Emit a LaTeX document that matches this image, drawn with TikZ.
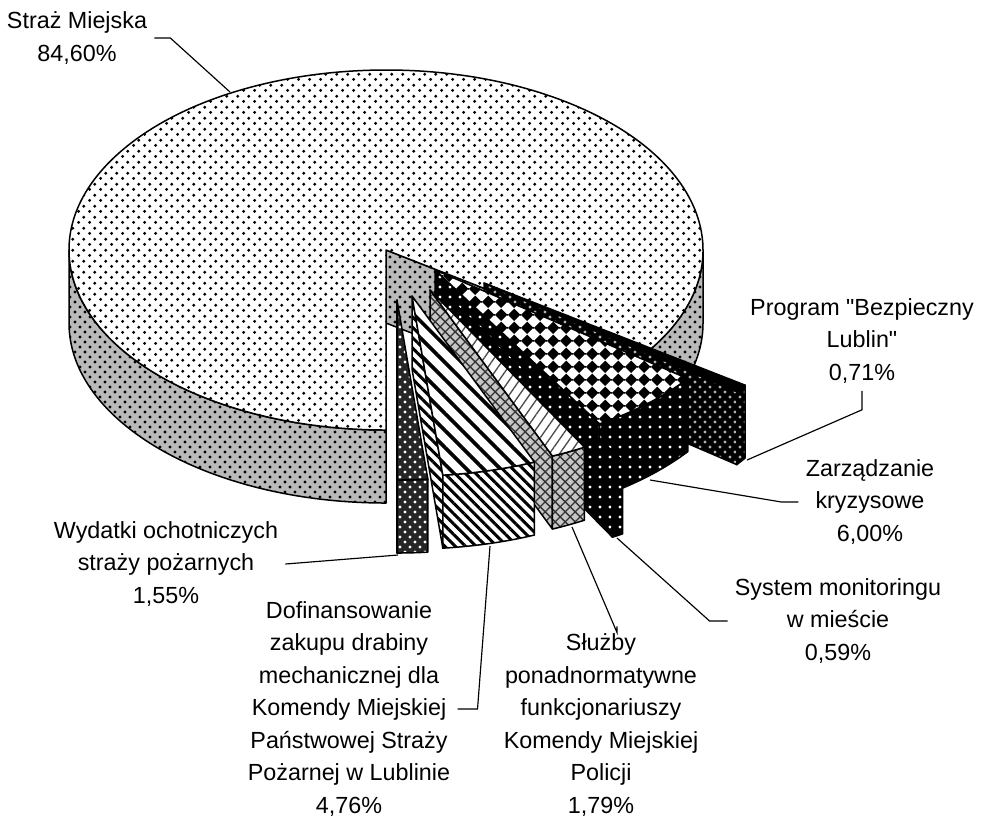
\documentclass[tikz,border=0pt]{standalone}
\usepackage{fontspec}
\setmainfont{Liberation Sans}[Ligatures=TeXOff]
\usetikzlibrary{patterns,patterns.meta}

% rotated checker for the crisis management slice
\tikzdeclarepattern{
  name=diamondcheck,
  type=colored,
  bottom left={(0pt,0pt)},
  top right={(3.8pt,3.8pt)},
  tile size={(3.8pt,3.8pt)},
  code={\fill[black] (1.9pt,0pt) -- (3.8pt,1.9pt) -- (1.9pt,3.8pt) -- (0pt,1.9pt) -- cycle;}
}
% coarse dots for the big slice
\tikzdeclarepattern{
  name=sparsedots,
  type=colored,
  bottom left={(0pt,0pt)},
  top right={(3.2pt,3.2pt)},
  tile size={(3.2pt,3.2pt)},
  code={\fill[black] (0.8pt,0.8pt) circle[radius=0.5pt];
        \fill[black] (2.4pt,2.4pt) circle[radius=0.5pt];}
}

\tikzset{
  face/.style={draw=black, line width=0.45pt, line join=round},
  maintop/.style={face, preaction={fill=white}, pattern=sparsedots},
  mainside/.style={face, preaction={fill=gray!55}, pattern=crosshatch dots},
  wydface/.style={face, preaction={fill=black!85}, pattern=crosshatch dots, pattern color=white},
  doftop/.style={face, preaction={fill=white}, pattern={Lines[angle=-45,distance=3.6pt,line width=1.1pt]}},
  dofside/.style={face, preaction={fill=white}, pattern={Lines[angle=-45,distance=2.2pt,line width=0.9pt]}},
  sluztop/.style={face, preaction={fill=white}, pattern={Lines[angle=55,distance=2.5pt,line width=0.4pt]}, pattern color=black!70},
  sluzside/.style={face, preaction={fill=gray!45}, pattern=crosshatch, pattern color=black!80},
  sysface/.style={face, preaction={fill=black}, pattern=dots, pattern color=white},
  zarztop/.style={face, preaction={fill=white}, pattern=diamondcheck},
  zarzside/.style={face, preaction={fill=black}, pattern=dots, pattern color=white},
  progtop/.style={face, fill=black},
  progside/.style={face, preaction={fill=black}, pattern=crosshatch dots, pattern color=gray!60},
  leader/.style={draw=black, line width=0.35pt},
  lbl/.style={font=\fontsize{7pt}{9.75pt}\selectfont, align=center, inner sep=2pt}
}

% pie centre (386,-250), radii 317 and 180, height 73
\newcommand{\pieband}[3]{%
  \path[#3] (386,-250) ++(#1:317 and 180)
    arc[start angle=#1, end angle=#2, x radius=317, y radius=180]
    -- ++(0,-73)
    arc[start angle=#2, end angle=#1, x radius=317, y radius=180] -- cycle;}
\newcommand{\piecut}[2]{%
  \path[#2] (386,-250) -- ++(#1:317 and 180) -- ++(0,-73) -- (386,-323) -- cycle;}
\newcommand{\pietop}[3]{%
  \path[#3] (386,-250) -- ++(#1:317 and 180)
    arc[start angle=#1, end angle=#2, x radius=317, y radius=180] -- cycle;}
\newcommand{\drawslice}[6]{%
  \begin{scope}[shift={(#1,-#2)}]
    \piecut{#3}{#6}
    \pieband{#3}{#4}{#6}
    \pietop{#3}{#4}{#5}
  \end{scope}}

\begin{document}
\begin{tikzpicture}[x=0.3pt,y=0.3pt]

  \fill[white] (0,0) rectangle (982,-817);
  \useasboundingbox (0,0) rectangle (982,-817);

  % Big slice: Straz Miejska
  \pieband{180}{270}{mainside}
  \pieband{-34.56}{0}{mainside}
  \piecut{-34.56}{mainside}
  \pietop{-34.56}{270}{maintop}

  % Exploded slices, back to front
  \drawslice{98}{33}{-37.12}{-34.56}{progtop}{progside}
  \drawslice{49}{20}{-58.72}{-37.12}{zarztop}{zarzside}
  \drawslice{72}{57}{-60.84}{-58.72}{sysface}{sysface}
  \drawslice{44}{40}{-67.28}{-60.84}{sluztop}{sluzside}
  \drawslice{26}{46}{-84.42}{-67.28}{doftop}{dofside}
  \drawslice{11}{50}{-90}{-84.42}{wydface}{wydface}

  % Leader ends on the slices
  \coordinate (mainpt) at (230,-92);
  \coordinate (progpt) at (747,-460);
  \coordinate (zarzpt) at (650,-480);
  \coordinate (syspt) at (617,-538);
  \coordinate (sluzpt) at (572,-527);
  \coordinate (dofpt) at (490,-546);
  \coordinate (wydpt) at (398,-555);

  % Labels
  \node[lbl] (strazlbl) at (77,-38) {Straż Miejska\\84,60\%};
  \node[lbl] (proglbl) at (862,-341) {Program "Bezpieczny\\Lublin"\\0,71\%};
  \node[lbl] (zarzlbl) at (870,-502) {Zarządzanie\\kryzysowe\\6,00\%};
  \node[lbl] (syslbl) at (838,-621) {System monitoringu\\w mieście\\0,59\%};
  \node[lbl] (sluzlbl) at (601,-725) {Służby\\ponadnormatywne\\funkcjonariuszy\\Komendy Miejskiej\\Policji\\1,79\%};
  \node[lbl] (doflbl) at (349,-709) {Dofinansowanie\\zakupu drabiny\\mechanicznej dla\\Komendy Miejskiej\\Państwowej Straży\\Pożarnej w Lublinie\\4,76\%};
  \node[lbl] (wydlbl) at (166,-564) {Wydatki ochotniczych\\straży pożarnych\\1,55\%};

  % Leader lines
  \draw[leader] (strazlbl.east) -- ++(16,0) -- (mainpt);
  \draw[leader] (proglbl.south) -- ++(0,-19) -- (progpt);
  \draw[leader] (zarzlbl.west) -- ++(-17,0) -- (zarzpt);
  \draw[leader] (syslbl.west) -- ++(-18,0) -- (syspt);
  \draw[leader] ([xshift=4.8pt]sluzlbl.north) -- ++(0,-6) -- (sluzpt);
  \draw[leader] (doflbl.east) -- ++(20,0) -- (dofpt);
  \draw[leader] (wydlbl.east) -- (wydpt);

\end{tikzpicture}
\end{document}
